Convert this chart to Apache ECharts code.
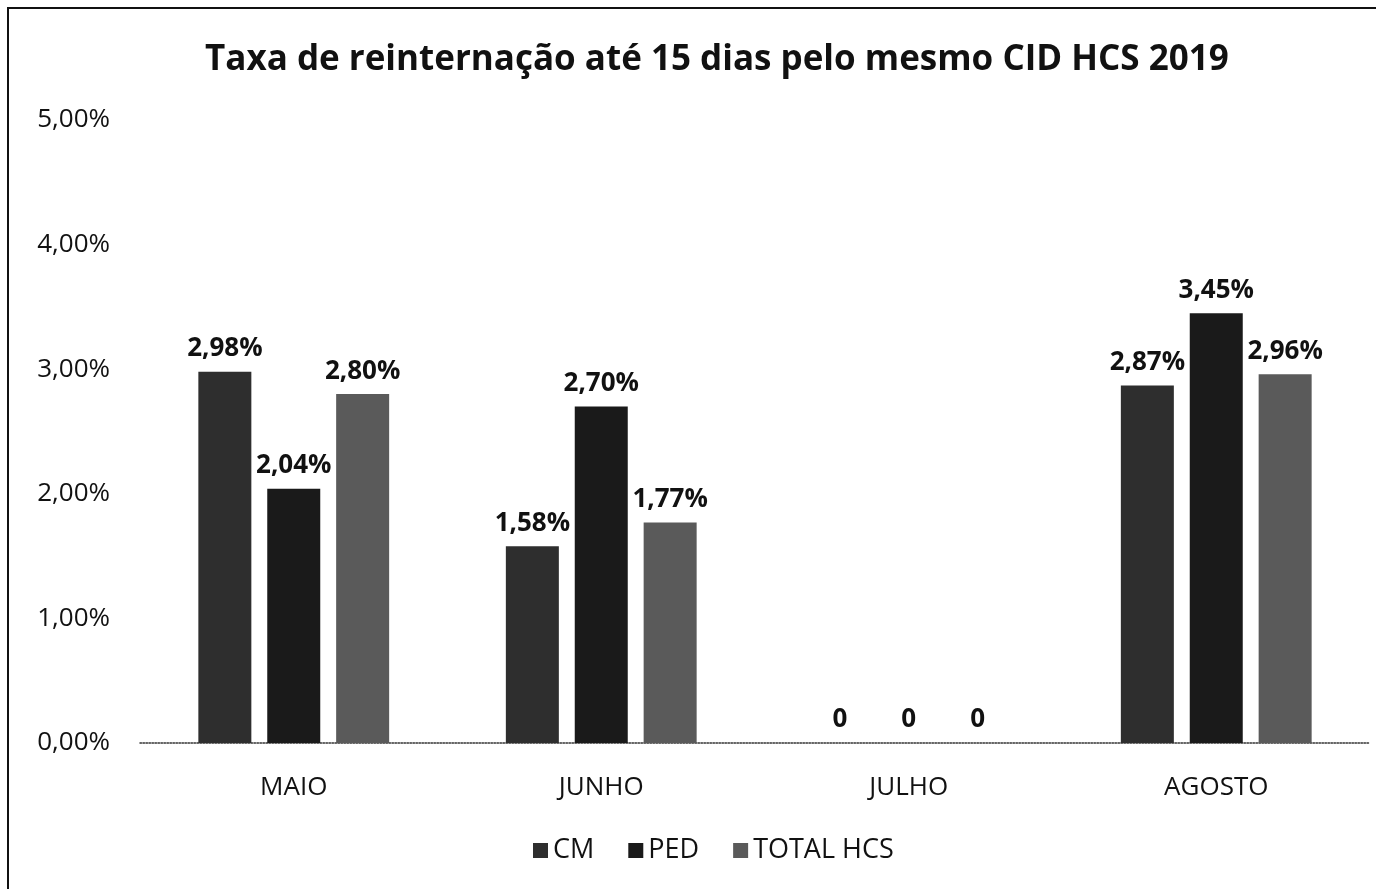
<!DOCTYPE html>
<html>
<head>
<meta charset="utf-8">
<script src="https://cdn.jsdelivr.net/npm/echarts@6/dist/echarts.min.js"></script>
<style>
  html, body { margin: 0; padding: 0; background: #fff; }
  #chart { width: 1376px; height: 889px; }
</style>
</head>
<body>
<div id="chart"></div>
<script>
const months = ["MAIO", "JUNHO", "JULHO", "AGOSTO"];
const cm = [2.98, 1.58, 0, 2.87];
const ped = [2.04, 2.70, 0, 3.45];
const totalHcs = [2.80, 1.77, 0, 2.96];
const yTicks = [0, 1, 2, 3, 4, 5];

const font = "Open Sans";

function pct(v) {
    return v.toFixed(2).replace(".", ",") + "%";
}

function barLabel(p) {
    if (p.value === 0) return "0";
    return pct(p.value);
}

const chart = echarts.init(document.getElementById('chart'), null, {renderer: 'canvas'});

function makeSeries(name, data, color) {
    return {
        name: name,
        type: "bar",
        data: data,
        barWidth: 53,
        barGap: "30%",
        itemStyle: {color: color},
        label: {
            show: true,
            position: "top",
            distance: 10,
            formatter: barLabel,
            fontFamily: font,
            fontWeight: "bold",
            fontSize: 26,
            color: "#111"
        }
    };
}

const option = {
    animation: false,
    backgroundColor: "#fff",
    title: {
        text: "Taxa de reinternação até 15 dias pelo mesmo CID HCS 2019",
        left: 200,
        top: 38,
        textStyle: {
            fontFamily: font,
            fontWeight: "bold",
            fontSize: 35,
            color: "#111"
        }
    },
    legend: {
        data: ["CM", "PED", "TOTAL HCS"],
        bottom: 20,
        left: 528,
        itemWidth: 15,
        itemHeight: 15,
        itemGap: 34,
        icon: "rect",
        textStyle: {fontFamily: font, fontSize: 27, color: "#111"}
    },
    grid: {left: 140, right: 6, top: 120, bottom: 146},
    xAxis: {
        type: "category",
        data: months,
        axisLine: {lineStyle: {color: "#333", type: "dotted", width: 1.5}},
        axisTick: {show: false},
        axisLabel: {fontFamily: font, fontSize: 26, color: "#111", margin: 32}
    },
    yAxis: {
        type: "value",
        min: yTicks[0],
        max: yTicks[yTicks.length - 1],
        interval: 1,
        axisLine: {show: false},
        axisTick: {show: false},
        splitLine: {show: false},
        axisLabel: {
            fontFamily: font, fontSize: 26, color: "#111", margin: 30,
            formatter: function (v) { return pct(v); }
        }
    },
    graphic: [{
        type: "rect",
        shape: {x: 8, y: 8, width: 1380, height: 900},
        style: {fill: "none", stroke: "#111", lineWidth: 2},
        silent: true
    }],
    series: [
        makeSeries("CM", cm, "#2e2e2e"),
        makeSeries("PED", ped, "#1a1a1a"),
        makeSeries("TOTAL HCS", totalHcs, "#5a5a5a")
    ]
};
chart.setOption(option);
</script>
</body>
</html>
